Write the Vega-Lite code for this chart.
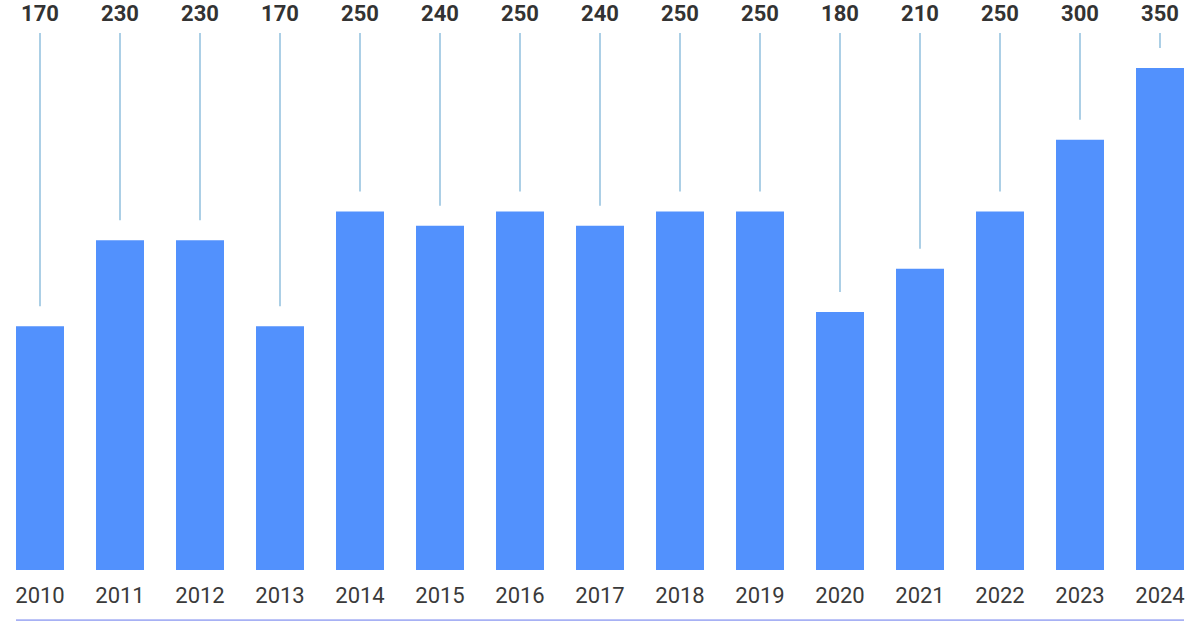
{
  "$schema": "https://vega.github.io/schema/vega-lite/v6.json",
  "width": 1200,
  "height": 570,
  "autosize": {"type": "none"},
  "padding": {"top": 0, "left": 0, "right": 0, "bottom": 51},
  "background": "white",
  "config": {"view": {"stroke": null}},
  "data": {"values": [
    {"year": "2010", "value": 170},
    {"year": "2011", "value": 230},
    {"year": "2012", "value": 230},
    {"year": "2013", "value": 170},
    {"year": "2014", "value": 250},
    {"year": "2015", "value": 240},
    {"year": "2016", "value": 250},
    {"year": "2017", "value": 240},
    {"year": "2018", "value": 250},
    {"year": "2019", "value": 250},
    {"year": "2020", "value": 180},
    {"year": "2021", "value": 210},
    {"year": "2022", "value": 250},
    {"year": "2023", "value": 300},
    {"year": "2024", "value": 350}
  ]},
  "encoding": {
    "x": {
      "field": "year", "type": "ordinal",
      "scale": {"paddingInner": 0.4, "paddingOuter": 0.2},
      "axis": {
        "title": null, "domain": false, "ticks": false, "labelAngle": 0,
        "labelFont": "Roboto", "labelFontSize": 22, "labelColor": "#3a3a3a",
        "labelPadding": 15, "labelFontWeight": "normal"
      }
    }
  },
  "layer": [
    {
      "mark": {"type": "bar", "color": "#5291fd"},
      "encoding": {
        "y": {"field": "value", "type": "quantitative",
              "scale": {"domain": [0, 397.5], "nice": false, "zero": true, "clamp": false},
              "axis": null}
      }
    },
    {
      "mark": {"type": "rule", "color": "#7fb5d8", "strokeWidth": 1.3, "yOffset": -20, "clip": false},
      "encoding": {
        "y": {"field": "value", "type": "quantitative"},
        "y2": {"datum": 374.5}
      }
    },
    {
      "mark": {"type": "text", "font": "Roboto", "fontSize": 22, "fontWeight": "bold", "color": "#333333", "baseline": "middle", "clip": false},
      "encoding": {
        "y": {"datum": 388},
        "text": {"field": "value", "type": "quantitative"}
      }
    },
    {
      "data": {"values": [{"from": "2010", "to": "2024", "level": -35}]},
      "mark": {"type": "rule", "color": "#a7b1f4", "strokeWidth": 2, "clip": false},
      "encoding": {
        "x": {"datum": "2010", "bandPosition": 0},
        "x2": {"datum": "2024", "bandPosition": 1},
        "y": {"field": "level", "type": "quantitative"}
      }
    }
  ]
}
